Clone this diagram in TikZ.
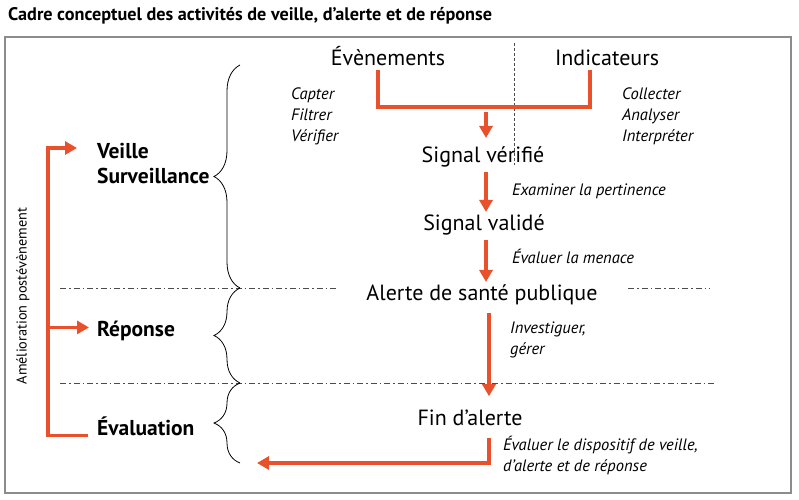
\documentclass[tikz,border=0pt]{standalone}
\usepackage{fontspec}
\setmainfont{PT Sans}
\usetikzlibrary{arrows.meta,decorations.pathreplacing}
\definecolor{alertred}{RGB}{233,80,44}
\tikzset{
    redline/.style = {draw=alertred, line width=3.5pt},
    redarrow/.style = {redline, -{Triangle[width=13pt,length=12pt]}},
    stage/.style = {inner sep=0pt, anchor=base, font=\fontsize{22}{26}\selectfont},
    action/.style = {inner sep=0pt, anchor=base west, align=left, font=\fontsize{16.5}{21}\selectfont\itshape},
    level/.style = {inner sep=0pt, anchor=base west, font=\fontsize{21.5}{25}\selectfont\bfseries},
    sepline/.style = {draw=black!70, thin, dash pattern=on 6pt off 3pt on 1.5pt off 3pt},
    levelbrace/.style = {draw, line width=0.8pt, decorate, decoration={brace, amplitude=26pt}}
}

\begin{document}
\begin{tikzpicture}[x=1pt, y=-1pt]
    \useasboundingbox (0,0) rectangle (799,499);
    \node[inner sep=0pt, anchor=base west, font=\fontsize{18.2}{21}\selectfont\bfseries] (title) at (8,20)
        {Cadre conceptuel des activités de veille, d’alerte et de réponse};
    \draw [draw=black!45, line width=1.2pt] (5,37) rectangle (791,493);

    % separators
    \draw [draw=black!70, thin, dash pattern=on 3pt off 2pt] (514,43) -- (514,165);
    \draw [sepline] (60,288) -- (338,288);
    \draw [sepline] (628,288) -- (710,288);
    \draw [sepline] (60,383) -- (715,383);

    % stages
    \node[stage] (evt) at (388,65) {Évènements};
    \node[stage] (ind) at (607,65) {Indicateurs};
    \node[stage] (sigv) at (483,162) {Signal vérifié};
    \node[stage] (sigval) at (484,230) {Signal validé};
    \node[stage] (alerte) at (482,300) {Alerte de santé publique};
    \node[stage] (fin) at (470,425) {Fin d’alerte};
    \coordinate (join) at (486,107);
    \coordinate (spine) at (486,0);

    % actions (base = last line)
    \node[action] (capter) at (291,141) {Capter\\Filtrer\\Vérifier};
    \node[action] (collecter) at (622,141) {Collecter\\Analyser\\Interpréter};
    \node[action] (examiner) at (512,195) {Examiner la pertinence};
    \node[action] (menace) at (512,263) {Évaluer la menace};
    \node[action] (investiguer) at (510,354) {Investiguer,\\gérer};
    \node[action] (dispositif) at (503,471) {Évaluer le dispositif de veille,\\d’alerte et de réponse};

    % levels
    \node[level] (veille) at (97,158) {Veille};
    \node[level] (surv) at (97,183) {Surveillance};
    \node[level] (reponse) at (97,336) {Réponse};
    \node[level] (evalu) at (97,435) {Évaluation};
    \node[inner sep=0pt, rotate=90, font=\fontsize{14.3}{16}\selectfont] (amelio) at (23,296) {Amélioration postévènement};

    \coordinate (b1) at (240,65);
    \coordinate (b2) at (240,288);
    \coordinate (b3) at (240,383);
    \coordinate (b4) at (240,463);
    \draw [levelbrace] (b2) -- (b1);
    \draw [levelbrace] (b3) -- (b2);
    \draw [levelbrace] (b4) -- (b3);

    \draw [redline] ([xshift=-10pt,yshift=-5pt]evt.south) |- (join) -| ([xshift=-17pt,yshift=-5pt]ind.south);
    \draw [redarrow, shorten <=5pt, shorten >=8pt] (join) -- (sigv.north -| join);
    \draw [redarrow, shorten <=5pt, shorten >=2pt] (sigv.south -| spine) -- (sigval.north -| spine);
    \draw [redarrow, shorten <=5pt, shorten >=2pt] (sigval.south -| spine) -- (alerte.north -| spine);
    \draw [redarrow, shorten <=8pt, shorten >=13pt] ([xshift=7pt]alerte.south) -- ([xshift=19pt]fin.north);
    \draw [redarrow] ([xshift=19pt,yshift=-13pt]fin.south) |- ([xshift=17pt]b4);

    \coordinate (fbx) at (48,148);
    \draw [redarrow, shorten >=20pt] ([xshift=-9pt]evalu.south west) -| (fbx) -- (fbx -| veille.west);
    \draw [redarrow, shorten >=8pt] (fbx |- reponse.west) ++(0,-3) -- ([yshift=3pt]reponse.west);
\end{tikzpicture}
\end{document}
